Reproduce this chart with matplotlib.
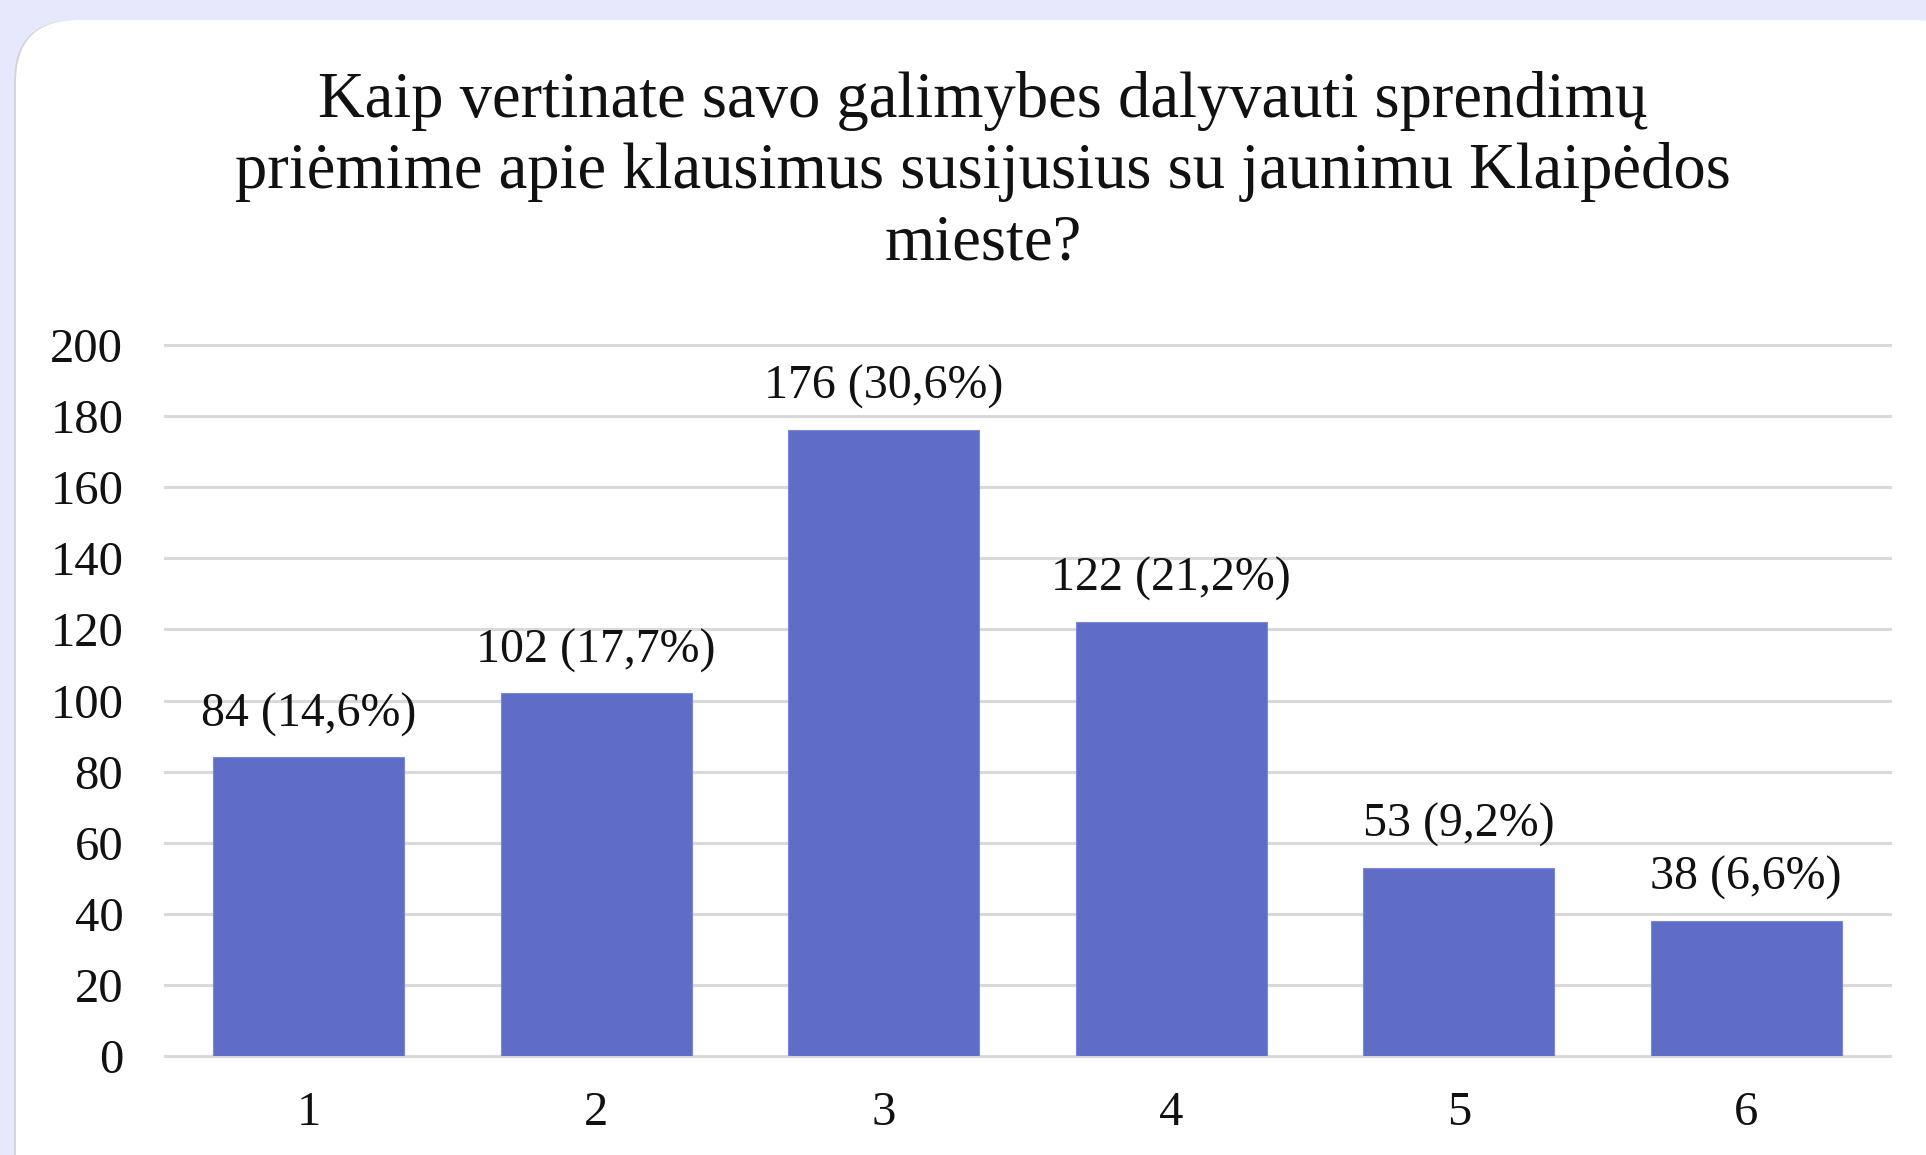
import matplotlib
matplotlib.use("Agg")
import matplotlib.pyplot as plt
from matplotlib.patches import FancyBboxPatch

plt.rcParams['font.family'] = ['Liberation Serif', 'DejaVu Serif']

title = ("Kaip vertinate savo galimybes dalyvauti sprendimų\n"
         "priėmime apie klausimus susijusius su jaunimu Klaipėdos\n"
         "mieste?")
categories = ["1", "2", "3", "4", "5", "6"]
counts = [84, 102, 176, 122, 53, 38]
percents = ["14,6", "17,7", "30,6", "21,2", "9,2", "6,6"]
yticks = [0, 20, 40, 60, 80, 100, 120, 140, 160, 180, 200]

W, H = 1926, 1155
fig = plt.figure(figsize=(W / 100, H / 100), dpi=100)
fig.patch.set_facecolor('#e5e9fb')

# white card with rounded corners (in inches so the corners stay round)
shadow = FancyBboxPatch((0.14, -1.0), 19.6, 12.35,
                        boxstyle="round,pad=0,rounding_size=0.62",
                        transform=fig.dpi_scale_trans, facecolor='#d4d4d8',
                        edgecolor='none', zorder=-10)
card = FancyBboxPatch((0.16, -1.0), 19.6, 12.35,
                      boxstyle="round,pad=0,rounding_size=0.62",
                      transform=fig.dpi_scale_trans, facecolor='white',
                      edgecolor='none', zorder=-9)
fig.patches.extend([shadow, card])

ax = fig.add_axes([165 / W, 99 / H, (1890 - 165) / W, (810 - 99) / H])
ax.set_facecolor('none')

x = range(len(categories))
bars = ax.bar(x, counts, width=0.664, color='#5f6dc6', edgecolor='#7d89d8',
              linewidth=0.8, zorder=3)

for b, c, p in zip(bars, counts, percents):
    ax.annotate(f"{c} ({p}%)", (b.get_x() + b.get_width() / 2, c),
                xytext=(0, 15), textcoords='offset points',
                ha='center', va='bottom', fontsize=34.5, color='#111111')

ax.set_xlim(-0.5, len(categories) - 0.5)
ax.set_ylim(0, 200)
ax.set_yticks(yticks)
ax.set_xticks(list(x))
ax.set_xticklabels(categories)
ax.grid(axis='y', color='#d9d9d9', linewidth=2.2, zorder=0)
for gl in ax.get_ygridlines():
    gl.set_clip_on(False)
for s in ax.spines.values():
    s.set_visible(False)
ax.tick_params(axis='both', length=0, labelsize=35, colors='#111111')
ax.tick_params(axis='y', pad=30)
ax.tick_params(axis='x', pad=25)

fig.text(983 / W, 1 - 172 / H, title, ha='center', va='center',
         fontsize=46.5, color='#111111', linespacing=1.25)

fig.savefig("out.png", dpi=100, facecolor=fig.get_facecolor())
